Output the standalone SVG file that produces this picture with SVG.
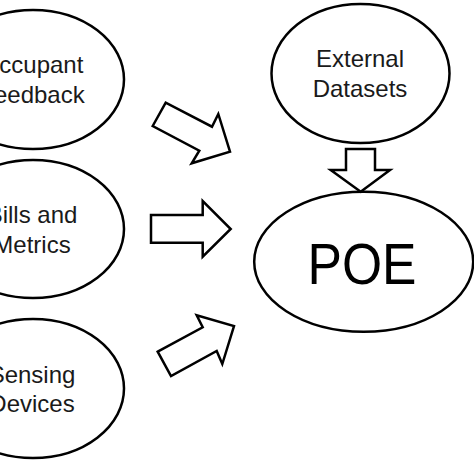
<svg xmlns="http://www.w3.org/2000/svg" width="474" height="474" viewBox="0 0 474 474">
<style>
.node ellipse{fill:#fff;stroke:#000;stroke-width:2.5}
.lbl{font-family:"Liberation Sans",Arial,sans-serif;font-size:24px;fill:#1a1a1a;text-anchor:middle}
.big{font-family:"Liberation Sans",Arial,sans-serif;font-size:58px;fill:#000;text-anchor:middle}
.arrow{fill:#fff;stroke:#000;stroke-width:2.5;stroke-linejoin:miter}
</style>
<rect width="474" height="474" fill="#fff"/>
<g id="occupant-feedback" class="node">
<ellipse cx="33" cy="79.5" rx="91" ry="69.5"/>
<text class="lbl" x="32" y="73">Occupant</text>
<text class="lbl" x="32" y="103">Feedback</text>
</g>
<g id="bills-metrics" class="node">
<ellipse cx="33" cy="229" rx="91" ry="69"/>
<text class="lbl" x="32" y="223">Bills and</text>
<text class="lbl" x="32" y="253">Metrics</text>
</g>
<g id="sensing-devices" class="node">
<ellipse cx="33" cy="388.5" rx="91" ry="69.5"/>
<text class="lbl" x="32" y="383">Sensing</text>
<text class="lbl" x="32" y="412">Devices</text>
</g>
<g id="external-datasets" class="node">
<ellipse cx="360.5" cy="73.5" rx="89" ry="69.5"/>
<text class="lbl" x="360" y="67">External</text>
<text class="lbl" x="360" y="97">Datasets</text>
</g>
<g id="poe" class="node">
<ellipse cx="363.7" cy="261.7" rx="109.5" ry="70"/>
<text class="big" x="362" y="284" textLength="109" lengthAdjust="spacingAndGlyphs">POE</text>
</g>
<g id="connectors">
<polygon class="arrow" points="152.7,126 165.7,102.7 212,126.7 218.3,114 230,151.7 191.7,163.3 199.3,150.7"/>
<polygon class="arrow" points="151,215 202.7,215 202.7,201 230.7,229 202.7,256.7 202.7,242.7 151,242.7"/>
<polygon class="arrow" points="157.7,351.7 202.7,327.3 196.7,315.3 234,326 222.3,364 216.7,351 171,376"/>
<polygon class="arrow" points="346,149 375,149 375,170 390,170 360.7,191.7 330.7,170 346,170"/>
</g>
</svg>
